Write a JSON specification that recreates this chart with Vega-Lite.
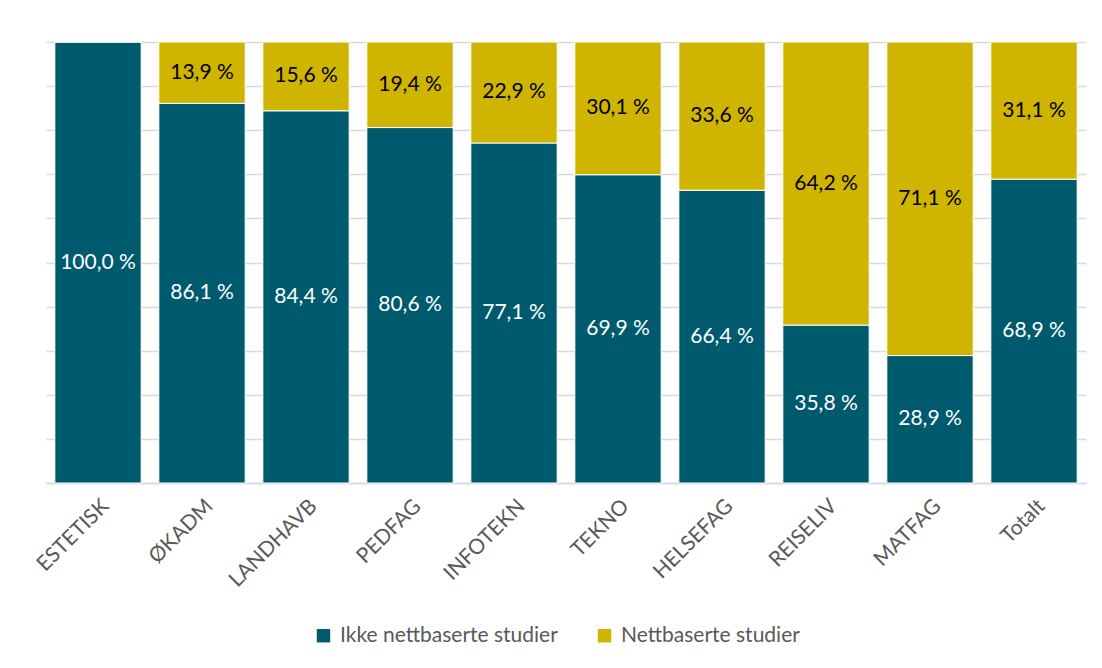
{
  "$schema": "https://vega.github.io/schema/vega-lite/v6.json",
  "width": 1040,
  "height": 441,
  "autosize": {"type": "none"},
  "padding": {"left": 46, "top": 42, "right": 16, "bottom": 185},
  "background": "white",
  "data": {
    "values": [
      {"cat": "ESTETISK", "series": "Ikke nettbaserte studier", "value": 100.0},
      {"cat": "ESTETISK", "series": "Nettbaserte studier", "value": 0.0},
      {"cat": "ØKADM", "series": "Ikke nettbaserte studier", "value": 86.1},
      {"cat": "ØKADM", "series": "Nettbaserte studier", "value": 13.9},
      {"cat": "LANDHAVB", "series": "Ikke nettbaserte studier", "value": 84.4},
      {"cat": "LANDHAVB", "series": "Nettbaserte studier", "value": 15.6},
      {"cat": "PEDFAG", "series": "Ikke nettbaserte studier", "value": 80.6},
      {"cat": "PEDFAG", "series": "Nettbaserte studier", "value": 19.4},
      {"cat": "INFOTEKN", "series": "Ikke nettbaserte studier", "value": 77.1},
      {"cat": "INFOTEKN", "series": "Nettbaserte studier", "value": 22.9},
      {"cat": "TEKNO", "series": "Ikke nettbaserte studier", "value": 69.9},
      {"cat": "TEKNO", "series": "Nettbaserte studier", "value": 30.1},
      {"cat": "HELSEFAG", "series": "Ikke nettbaserte studier", "value": 66.4},
      {"cat": "HELSEFAG", "series": "Nettbaserte studier", "value": 33.6},
      {"cat": "REISELIV", "series": "Ikke nettbaserte studier", "value": 35.8},
      {"cat": "REISELIV", "series": "Nettbaserte studier", "value": 64.2},
      {"cat": "MATFAG", "series": "Ikke nettbaserte studier", "value": 28.9},
      {"cat": "MATFAG", "series": "Nettbaserte studier", "value": 71.1},
      {"cat": "Totalt", "series": "Ikke nettbaserte studier", "value": 68.9},
      {"cat": "Totalt", "series": "Nettbaserte studier", "value": 31.1}
    ]
  },
  "transform": [
    {"stack": "value", "groupby": ["cat"], "sort": [{"field": "series", "order": "ascending"}], "as": ["v0", "v1"]},
    {"calculate": "(datum.v0 + datum.v1) / 2", "as": "mid"},
    {"calculate": "replace(format(datum.value, '.1f'), '.', ',') + ' %'", "as": "label"}
  ],
  "encoding": {
    "x": {
      "field": "cat",
      "type": "nominal",
      "sort": null,
      "title": null,
      "scale": {"paddingInner": 0.17, "paddingOuter": 0.085},
      "axis": {
        "labelAngle": -45,
        "labelFontSize": 21,
        "labelColor": "#595959",
        "labelFont": "Lato",
        "labelPadding": 12,
        "labelLimit": 0,
        "ticks": false,
        "domainColor": "#d9d9d9",
        "domainWidth": 1.5
      }
    }
  },
  "layer": [
    {
      "mark": {"type": "bar", "stroke": "white", "strokeWidth": 1},
      "encoding": {
        "y": {
          "field": "v0",
          "type": "quantitative",
          "scale": {"domain": [0, 100], "nice": false},
          "axis": {
            "title": null,
            "labels": false,
            "ticks": false,
            "domain": false,
            "grid": true,
            "gridColor": "#d9d9d9",
            "gridWidth": 1.5,
            "values": [0, 10, 20, 30, 40, 50, 60, 70, 80, 90, 100]
          }
        },
        "y2": {"field": "v1"},
        "color": {
          "field": "series",
          "type": "nominal",
          "scale": {
            "domain": ["Ikke nettbaserte studier", "Nettbaserte studier"],
            "range": ["#005A6E", "#CFB400"]
          },
          "legend": {
            "title": null,
            "orient": "none",
            "legendX": 267,
            "legendY": 583,
            "direction": "horizontal",
            "symbolType": "square",
            "symbolSize": 180,
            "symbolStrokeWidth": 0,
            "labelFontSize": 21,
            "labelFont": "Lato",
            "labelColor": "#595959",
            "labelLimit": 0,
            "columnPadding": 36,
            "labelOffset": 6
          }
        }
      }
    },
    {
      "transform": [{"filter": "datum.value > 0"}],
      "mark": {"type": "text", "fontSize": 21, "font": "Lato", "baseline": "middle", "align": "center"},
      "encoding": {
        "y": {"field": "mid", "type": "quantitative"},
        "text": {"field": "label"},
        "color": {
          "field": "series",
          "type": "nominal",
          "scale": {
            "domain": ["Ikke nettbaserte studier", "Nettbaserte studier"],
            "range": ["#FFFFFF", "#000000"]
          },
          "legend": null
        }
      }
    }
  ],
  "resolve": {"scale": {"color": "independent"}},
  "config": {
    "view": {"stroke": null}
  }
}
